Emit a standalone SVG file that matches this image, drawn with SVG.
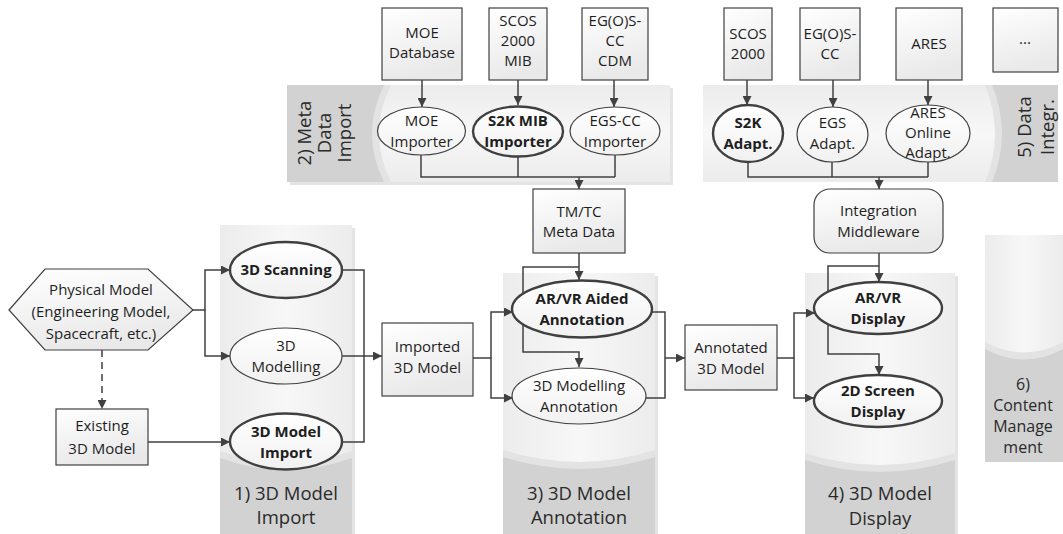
<svg xmlns="http://www.w3.org/2000/svg" width="1063" height="534" viewBox="0 0 1063 534">
<defs>
<linearGradient id="gBox" x1="0" y1="0" x2="0.3" y2="1"><stop offset="0" stop-color="#ffffff"/><stop offset="1" stop-color="#e9e9e9"/></linearGradient>
<linearGradient id="gEll" x1="0" y1="0" x2="0" y2="1"><stop offset="0" stop-color="#ffffff"/><stop offset="1" stop-color="#f1f1f1"/></linearGradient>
<linearGradient id="gBandV" x1="0" y1="0" x2="1" y2="0"><stop offset="0" stop-color="#ececec"/><stop offset="0.5" stop-color="#f7f7f7"/><stop offset="1" stop-color="#ececec"/></linearGradient>
<linearGradient id="gBandH" x1="0" y1="0" x2="0" y2="1"><stop offset="0" stop-color="#ececec"/><stop offset="0.5" stop-color="#f7f7f7"/><stop offset="1" stop-color="#ececec"/></linearGradient>
<marker id="arr" viewBox="0 0 10 10" refX="10" refY="5" markerUnits="userSpaceOnUse" markerWidth="9" markerHeight="9" orient="auto"><path d="M0,0 L10,5 L0,10 z" fill="#404040"/></marker>
</defs>
<style>
text{font-family:"Open Sans","Liberation Sans",sans-serif;font-size:15px;fill:#1e1e1e;text-anchor:middle}
.b{font-weight:bold}
.lbl{font-size:18.5px;fill:#2a2a2a}
.lbl6{font-size:16px;fill:#2a2a2a}
.box{fill:url(#gBox);stroke:#404040;stroke-width:1.2}
.ell{fill:url(#gEll);stroke:#404040;stroke-width:1.2}
.ellb{fill:url(#gEll);stroke:#404040;stroke-width:2.4}
.dark{fill:#d2d2d2}
.shadow{fill:#e4e4e4}
.rim{fill:#e3e3e3}
.lightV{fill:url(#gBandV)}
.lightH{fill:url(#gBandH)}
.con{fill:none;stroke:#404040;stroke-width:1.5}
.arr{marker-end:url(#arr)}
.dash{stroke-dasharray:7,5}
</style>
<rect width="1063" height="534" fill="#ffffff"/>

<!-- bands -->
<g id="band1">
<rect class="shadow" x="223" y="228" width="132" height="306"/>
<rect class="dark" x="220" y="225" width="132" height="309"/>
<path class="rim" d="M220,225 H352 V458 Q286,482 220,458 Z"/>
<path class="lightV" d="M220,225 H352 V451 Q286,475 220,451 Z"/>
<text class="lbl" x="286" y="500">1) 3D Model</text>
<text class="lbl" x="286" y="524">Import</text>
</g>
<g id="band3">
<rect class="shadow" x="506" y="276" width="152" height="258"/>
<rect class="dark" x="503" y="273" width="152" height="261"/>
<path class="rim" d="M503,273 H655 V457 Q579,481 503,457 Z"/>
<path class="lightV" d="M503,273 H655 V450 Q579,474 503,450 Z"/>
<text class="lbl" x="579" y="500">3) 3D Model</text>
<text class="lbl" x="579" y="524">Annotation</text>
</g>
<g id="band4">
<rect class="shadow" x="808" y="276" width="150" height="258"/>
<rect class="dark" x="805" y="273" width="150" height="261"/>
<path class="rim" d="M805,273 H955 V460 Q880,484 805,460 Z"/>
<path class="lightV" d="M805,273 H955 V453 Q880,477 805,453 Z"/>
<text class="lbl" x="880" y="500">4) 3D Model</text>
<text class="lbl" x="880" y="525">Display</text>
</g>
<g id="band6">
<rect class="dark" x="985" y="235" width="78" height="227"/>
<path class="rim" d="M985,235 H1063 V349 Q1024,370 985,349 Z"/>
<path class="lightV" d="M985,235 H1063 V342 Q1024,363 985,342 Z"/>
<text class="lbl6" x="1023" y="390">6)</text>
<text class="lbl6" x="1023" y="411">Content</text>
<text class="lbl6" x="1023" y="432">Manage</text>
<text class="lbl6" x="1023" y="453">ment</text>
</g>
<g id="band2">
<rect class="shadow" x="290" y="88" width="383" height="97"/>
<rect class="dark" x="287" y="85" width="383" height="97"/>
<path class="rim" d="M670,85 H384 Q360,133.5 384,182 H670 Z"/>
<path class="lightH" d="M670,85 H391 Q367,133.5 391,182 H670 Z"/>
<g transform="translate(311,133) rotate(-90)">
<text class="lbl" x="0" y="0">2) Meta</text>
<text class="lbl" x="0" y="20">Data</text>
<text class="lbl" x="0" y="40">Import</text>
</g>
</g>
<g id="band5">
<rect class="dark" x="703" y="85" width="355" height="97"/>
<path class="rim" d="M703,85 H992 Q1012,133.5 992,182 H703 Z"/>
<path class="lightH" d="M703,85 H985 Q1005,133.5 985,182 H703 Z"/>
<g transform="translate(1031,127) rotate(-90)">
<text class="lbl" x="0" y="0">5) Data</text>
<text class="lbl" x="0" y="23">Integr.</text>
</g>
</g>

<!-- connectors -->
<g id="connectors">
<path class="con arr" d="M422,80 V107"/>
<path class="con arr" d="M518,80 V105"/>
<path class="con arr" d="M614,80 V107"/>
<path class="con" d="M421,155 V177 H615 M518,157 V177 M615,155 V177"/>
<path class="con arr" d="M579,177 V189"/>
<path class="con arr" d="M747,80 V105"/>
<path class="con arr" d="M833,80 V107"/>
<path class="con arr" d="M928,80 V105"/>
<path class="con" d="M748,162 V177 H928 M832,162 V177 M928,162 V177"/>
<path class="con arr" d="M879,177 V189"/>
<path class="con arr" d="M193,310 H205 V270 H230"/>
<path class="con arr" d="M205,310 V356 H230"/>
<path class="con arr dash" d="M102,350 V409"/>
<path class="con arr" d="M148,442 H230"/>
<path class="con" d="M342,270 H364 V442 H342"/>
<path class="con arr" d="M342,356 H382"/>
<path class="con arr" d="M473,358 H491 V312 H513"/>
<path class="con arr" d="M491,358 V398 H513"/>
<path class="con arr" d="M579,253 V280"/>
<path class="con arr" d="M579,267 H523 V352 H579 V367"/>
<path class="con" d="M651,312 H665 V398 H645"/>
<path class="con arr" d="M665,358 H685"/>
<path class="con arr" d="M879,253 V282"/>
<path class="con arr" d="M879,266 H828 V354 H879 V375"/>
<path class="con arr" d="M777,358 H794 V313 H815"/>
<path class="con arr" d="M794,358 V398 H814"/>
</g>

<!-- nodes -->
<g id="moeDb"><rect class="box" x="382" y="8" width="80" height="72"/><text x="422" y="38">MOE</text><text x="422" y="58">Database</text></g>
<g id="scosMib"><rect class="box" x="489" y="8" width="58" height="72"/><text x="518" y="26">SCOS</text><text x="518" y="46">2000</text><text x="518" y="66">MIB</text></g>
<g id="egsCdm"><rect class="box" x="582" y="8" width="66" height="72"/><text x="615" y="26">EG(O)S-</text><text x="615" y="46">CC</text><text x="615" y="66">CDM</text></g>
<g id="scos2000"><rect class="box" x="724" y="8" width="48" height="72"/><text x="748" y="39">SCOS</text><text x="748" y="59">2000</text></g>
<g id="egscc"><rect class="box" x="800" y="8" width="60" height="72"/><text x="830" y="39">EG(O)S-</text><text x="830" y="59">CC</text></g>
<g id="ares"><rect class="box" x="896" y="8" width="66" height="72"/><text x="929" y="49">ARES</text></g>
<g id="more"><rect class="box" x="993" y="8" width="65" height="64"/><text x="1025" y="44">...</text></g>

<g id="moeImp"><ellipse class="ell" cx="421.5" cy="131" rx="44" ry="24"/><text x="421.5" y="126">MOE</text><text x="421.5" y="147">Importer</text></g>
<g id="s2kImp"><ellipse class="ellb" cx="518" cy="131.5" rx="45" ry="25"/><text class="b" x="518" y="126">S2K MIB</text><text class="b" x="518" y="147">Importer</text></g>
<g id="egsImp"><ellipse class="ell" cx="615" cy="131" rx="45" ry="24"/><text x="615" y="126">EGS-CC</text><text x="615" y="147">Importer</text></g>

<g id="s2kAd"><ellipse class="ellb" cx="748" cy="133.5" rx="35" ry="28.5"/><text class="b" x="748" y="128">S2K</text><text class="b" x="748" y="149">Adapt.</text></g>
<g id="egsAd"><ellipse class="ell" cx="832.5" cy="134.5" rx="35.5" ry="27.5"/><text x="832.5" y="128">EGS</text><text x="832.5" y="149">Adapt.</text></g>
<g id="aresAd"><ellipse class="ell" cx="928" cy="133.5" rx="42" ry="28.5"/><text x="928" y="118">ARES</text><text x="928" y="138">Online</text><text x="928" y="158">Adapt.</text></g>

<g id="tmtc"><rect class="box" x="533" y="189" width="92" height="64"/><text x="579" y="217">TM/TC</text><text x="579" y="237">Meta Data</text></g>
<g id="middleware"><rect class="box" x="814" y="189" width="129" height="64" rx="16"/><text x="878.5" y="216">Integration</text><text x="878.5" y="237">Middleware</text></g>

<g id="physical"><polygon class="box" points="9,310 45,269 148,269 193,310 148,350 45,350"/><text x="101" y="295">Physical Model</text><text x="101" y="317">(Engineering Model,</text><text x="101" y="339">Spacecraft, etc.)</text></g>
<g id="existing"><rect class="box" x="56" y="409" width="92" height="56"/><text x="102" y="431">Existing</text><text x="102" y="454">3D Model</text></g>

<g id="scan"><ellipse class="ellb" cx="286" cy="270" rx="56" ry="28"/><text class="b" x="286" y="275">3D Scanning</text></g>
<g id="modelling"><ellipse class="ell" cx="286" cy="356" rx="56" ry="28"/><text x="286" y="351">3D</text><text x="286" y="372">Modelling</text></g>
<g id="import"><ellipse class="ellb" cx="286" cy="441.5" rx="56" ry="28"/><text class="b" x="286" y="437">3D Model</text><text class="b" x="286" y="458">Import</text></g>

<g id="imported"><rect class="box" x="382" y="323" width="91" height="73"/><text x="427.5" y="352">Imported</text><text x="427.5" y="373">3D Model</text></g>

<g id="arvrAnn"><ellipse class="ellb" cx="582" cy="309" rx="70" ry="28.5"/><text class="b" x="582" y="304">AR/VR Aided</text><text class="b" x="582" y="325">Annotation</text></g>
<g id="modAnn"><ellipse class="ell" cx="579" cy="396" rx="67" ry="28"/><text x="579" y="391">3D Modelling</text><text x="579" y="412">Annotation</text></g>

<g id="annotated"><rect class="box" x="685" y="325" width="92" height="65"/><text x="731" y="353">Annotated</text><text x="731" y="374">3D Model</text></g>

<g id="arvrDisp"><ellipse class="ellb" cx="878" cy="308" rx="64" ry="26"/><text class="b" x="878" y="303">AR/VR</text><text class="b" x="878" y="324">Display</text></g>
<g id="screenDisp"><ellipse class="ellb" cx="878" cy="401" rx="64" ry="26"/><text class="b" x="878" y="396">2D Screen</text><text class="b" x="878" y="417">Display</text></g>
</svg>
